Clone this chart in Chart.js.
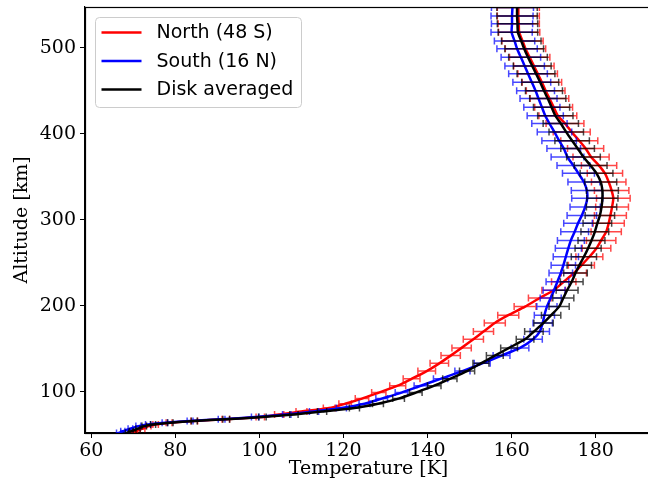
<!DOCTYPE html>
<html>
<head>
<meta charset="utf-8">
<script src="https://cdn.jsdelivr.net/npm/chart.js@4.4.1/dist/chart.umd.min.js"></script>
<style>
  html, body { margin: 0; padding: 0; overflow: hidden; background: #ffffff; }
  canvas { display: block; }
</style>
</head>
<body>
<canvas id="profile" width="652" height="489"></canvas>
<script>
// Retrieval levels (altitude, km)
const altitudes = [
  48, 52, 54, 57, 60, 62, 64, 66, 68, 70.5,
  73.5, 77, 81, 86, 92, 99, 107, 115, 124, 133,
  142, 151, 161, 170, 180, 189, 199, 209, 218, 228,
  238, 247, 257, 267, 276, 286, 296, 305, 315, 325,
  334, 344, 354, 363, 373, 383, 392, 402, 412, 421,
  431, 441, 450, 460, 470, 479, 489, 499, 508, 518,
  528, 537, 547
];

// Temperature profiles (K)
const tempNorth = [
  67.5, 69.3, 70.5, 72.2, 73.6, 75.3, 78.5, 84.5, 92.0, 100.2,
  104.7, 110.0, 116.6, 120.4, 124.4, 128.4, 132.9, 136.2, 139.8, 142.8,
  145.5, 148.1, 150.9, 153.3, 156.0, 159.2, 163.2, 166.7, 170.0, 172.4,
  174.8, 176.6, 178.5, 180.2, 181.3, 182.5, 183.1, 183.5, 183.9, 184.2,
  183.8, 183.1, 182.2, 180.8, 178.9, 177.6, 176.1, 174.3, 172.7, 171.0,
  170.0, 169.0, 168.1, 167.2, 166.2, 165.3, 164.3, 163.3, 162.6, 161.8,
  161.7, 161.6, 161.6
];
const tempSouth = [
  64.5, 66.5, 67.5, 69.3, 71.2, 73.5, 77.5, 83.5, 91.0, 99.0,
  106.5, 113.0, 119.5, 125.0, 129.1, 133.8, 138.4, 143.1, 148.3, 153.0,
  157.6, 162.0, 165.1, 166.7, 167.4, 167.8, 168.4, 169.3, 170.1, 170.9,
  171.7, 172.3, 172.9, 173.5, 174.1, 175.0, 175.8, 176.7, 177.5, 178.0,
  177.9, 177.2, 175.9, 174.7, 173.3, 172.4, 171.3, 170.2, 169.0, 168.0,
  167.2, 166.4, 165.7, 164.8, 163.9, 163.1, 162.2, 161.3, 160.7, 160.0,
  160.1, 160.1, 160.2
];
const tempDisk = [
  66.8, 68.5, 69.5, 71.1, 72.6, 74.7, 78.8, 84.5, 92.1, 100.7,
  108.2, 114.9, 122.6, 128.2, 133.1, 137.2, 141.6, 145.3, 149.4, 152.7,
  156.0, 159.4, 163.2, 165.3, 167.6, 169.4, 171.3, 172.3, 173.2, 174.3,
  175.2, 176.1, 177.2, 178.2, 179.0, 179.8, 180.4, 181.0, 181.4, 181.6,
  181.6, 181.2, 180.2, 178.8, 177.1, 175.7, 174.4, 173.0, 171.7, 170.4,
  169.5, 168.6, 167.7, 166.8, 165.8, 164.9, 163.9, 163.0, 162.3, 161.5,
  161.4, 161.3, 161.3
];

// 1-sigma temperature uncertainties (K)
const errNorth = [
  0.5, 0.5, 0.5, 0.55, 0.6, 0.65, 0.7, 0.8, 0.9, 1.0,
  1.1, 1.3, 1.4, 1.5, 1.6, 1.7, 1.9, 2.0, 2.1, 2.2,
  2.3, 2.3, 2.4, 2.4, 2.5, 2.5, 2.6, 2.7, 2.8, 2.9,
  3.0, 3.1, 3.2, 3.4, 3.5, 3.6, 3.7, 3.8, 3.9, 4.0,
  4.1, 4.1, 4.2, 4.2, 4.3, 4.3, 4.4, 4.4, 4.5, 4.5,
  4.5, 4.6, 4.6, 4.7, 4.7, 4.8, 4.8, 4.8, 4.9, 4.9,
  4.9, 5.0, 5.0
];
const errSouth = [
  0.5, 0.5, 0.5, 0.55, 0.6, 0.6, 0.65, 0.7, 0.8, 0.9,
  1.0, 1.1, 1.2, 1.3, 1.4, 1.5, 1.6, 1.7, 1.8, 1.9,
  2.0, 2.1, 2.2, 2.3, 2.3, 2.4, 2.4, 2.5, 2.6, 2.7,
  2.8, 2.9, 3.0, 3.1, 3.2, 3.3, 3.4, 3.5, 3.6, 3.7,
  3.7, 3.8, 3.8, 3.9, 3.9, 4.0, 4.1, 4.1, 4.2, 4.3,
  4.3, 4.4, 4.5, 4.5, 4.6, 4.7, 4.7, 4.8, 4.8, 4.9,
  4.9, 5.0, 5.0
];
const errDisk = [
  0.4, 0.4, 0.45, 0.5, 0.55, 0.6, 0.65, 0.7, 0.8, 0.9,
  1.0, 1.1, 1.2, 1.3, 1.4, 1.5, 1.6, 1.7, 1.8, 1.9,
  2.0, 2.0, 2.1, 2.2, 2.3, 2.3, 2.4, 2.5, 2.6, 2.7,
  2.8, 2.9, 3.0, 3.1, 3.2, 3.3, 3.4, 3.5, 3.6, 3.7,
  3.8, 3.8, 3.9, 3.9, 4.0, 4.0, 4.1, 4.1, 4.2, 4.2,
  4.3, 4.3, 4.4, 4.4, 4.5, 4.5, 4.6, 4.6, 4.7, 4.7,
  4.8, 4.8, 4.8
];

const seriesLabels = ['North (48 S)', 'South (16 N)', 'Disk averaged'];
const xTicks = [60, 80, 100, 120, 140, 160, 180];
const yTicks = [100, 200, 300, 400, 500];

const lineColors = ['#ff0000', '#0000ff', '#000000'];
const barColors = ['rgba(255,0,0,0.72)', 'rgba(0,0,255,0.72)', 'rgba(0,0,0,0.72)'];
const temps = [tempNorth, tempSouth, tempDisk];
const errs = [errNorth, errSouth, errDisk];

const serif = 'DejaVu Serif';
const sans = 'DejaVu Sans';

const datasets = seriesLabels.map((label, i) => ({
  label: label,
  data: altitudes.map((a, k) => ({ x: temps[i][k], y: a })),
  errors: errs[i],
  barColor: barColors[i],
  borderColor: lineColors[i],
  backgroundColor: lineColors[i],
  borderWidth: 2.5,
  pointRadius: 0,
  pointHoverRadius: 0,
  tension: 0.2,
  fill: false,
  order: 3 - i
}));

// Horizontal error bars with end caps, drawn under each profile line
const errorBars = {
  id: 'errorBars',
  beforeDatasetDraw(chart, args) {
    const ds = chart.data.datasets[args.index];
    const xs = chart.scales.x, ys = chart.scales.y;
    const a = chart.chartArea;
    const ctx = chart.ctx;
    const cap = 3.5;
    ctx.save();
    ctx.beginPath();
    ctx.rect(a.left, a.top, a.right - a.left, a.bottom - a.top);
    ctx.clip();
    ctx.strokeStyle = ds.barColor;
    ctx.lineWidth = 1.5;
    ds.data.forEach((p, k) => {
      const e = ds.errors[k];
      const x0 = xs.getPixelForValue(p.x - e);
      const x1 = xs.getPixelForValue(p.x + e);
      const y = ys.getPixelForValue(p.y);
      ctx.beginPath();
      ctx.moveTo(x0, y); ctx.lineTo(x1, y);
      ctx.moveTo(x0, y - cap); ctx.lineTo(x0, y + cap);
      ctx.moveTo(x1, y - cap); ctx.lineTo(x1, y + cap);
      ctx.stroke();
    });
    ctx.restore();
  }
};

// Axes frame on top of the data
const frame = {
  id: 'frame',
  afterDatasetsDraw(chart) {
    const a = chart.chartArea;
    const ctx = chart.ctx;
    ctx.save();
    ctx.strokeStyle = '#000';
    ctx.lineWidth = 1.2;
    ctx.strokeRect(Math.round(a.left) + 0.5, Math.round(a.top) + 0.5,
                   Math.round(a.right - a.left), Math.round(a.bottom - a.top));
    ctx.restore();
  }
};

// Legend box in the upper-left corner of the plot
const legendBox = {
  id: 'legendBox',
  afterDraw(chart) {
    const a = chart.chartArea;
    const ctx = chart.ctx;
    const x = a.left + 10.5, y = a.top + 10.5, w = 206, h = 90, r = 4;
    ctx.save();
    ctx.beginPath();
    ctx.moveTo(x + r, y);
    ctx.lineTo(x + w - r, y); ctx.arcTo(x + w, y, x + w, y + r, r);
    ctx.lineTo(x + w, y + h - r); ctx.arcTo(x + w, y + h, x + w - r, y + h, r);
    ctx.lineTo(x + r, y + h); ctx.arcTo(x, y + h, x, y + h - r, r);
    ctx.lineTo(x, y + r); ctx.arcTo(x, y, x + r, y, r);
    ctx.closePath();
    ctx.fillStyle = 'rgba(255,255,255,0.8)';
    ctx.fill();
    ctx.strokeStyle = '#cccccc';
    ctx.lineWidth = 1;
    ctx.stroke();
    ctx.font = '19px "' + sans + '"';
    ctx.textBaseline = 'middle';
    ctx.textAlign = 'left';
    seriesLabels.forEach((label, i) => {
      const ry = y + 15 + i * 28.5;
      ctx.strokeStyle = lineColors[i];
      ctx.lineWidth = 2.5;
      ctx.beginPath();
      ctx.moveTo(x + 6, ry); ctx.lineTo(x + 46, ry);
      ctx.stroke();
      ctx.fillStyle = '#000';
      ctx.fillText(label, x + 61, ry + 1);
    });
    ctx.restore();
  }
};

new Chart(document.getElementById('profile'), {
  type: 'line',
  data: { datasets: datasets },
  plugins: [errorBars, frame, legendBox],
  options: {
    indexAxis: 'y',
    responsive: false,
    animation: false,
    devicePixelRatio: 1,
    layout: { padding: { top: 7, right: 0, bottom: 0, left: 0 } },
    plugins: { legend: { display: false }, tooltip: { enabled: false } },
    scales: {
      x: {
        type: 'linear',
        position: 'bottom',
        min: 58.5,
        max: 193.4,
        afterBuildTicks: s => { s.ticks = xTicks.map(v => ({ value: v })); },
        afterFit: s => { s.height = 56; s.paddingLeft = 0; s.paddingRight = 0; },
        grid: { display: true, drawOnChartArea: false, drawTicks: true, tickLength: 5, color: '#000', lineWidth: 1 },
        border: { display: true, color: '#000', width: 1.2 },
        ticks: { color: '#000', font: { family: serif, size: 19 }, padding: 2, maxRotation: 0, autoSkip: false },
        title: { display: true, text: 'Temperature [K]', color: '#000', font: { family: serif, size: 19 }, padding: { top: 0, bottom: 9 } }
      },
      y: {
        type: 'linear',
        position: 'left',
        min: 52,
        max: 547.5,
        afterBuildTicks: s => { s.ticks = yTicks.map(v => ({ value: v })); },
        afterFit: s => { s.width = 85; s.paddingTop = 0; s.paddingBottom = 0; },
        grid: { display: true, drawOnChartArea: false, drawTicks: true, tickLength: 5, color: '#000', lineWidth: 1 },
        border: { display: true, color: '#000', width: 1.2 },
        ticks: { color: '#000', font: { family: serif, size: 19 }, padding: 4, autoSkip: false },
        title: { display: true, text: 'Altitude [km]', color: '#000', font: { family: serif, size: 19 }, padding: { top: 11, bottom: 0 } }
      }
    }
  }
});
</script>
</body>
</html>
